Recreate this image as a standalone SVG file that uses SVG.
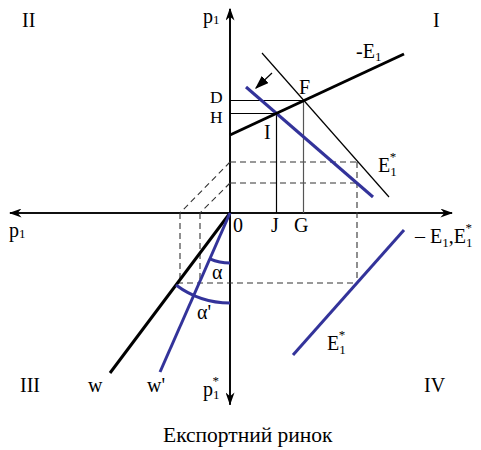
<svg xmlns="http://www.w3.org/2000/svg" width="481" height="450" viewBox="0 0 481 450">
<defs>
<marker id="ah" viewBox="0 0 20 14" refX="18" refY="7" markerWidth="13" markerHeight="9" markerUnits="userSpaceOnUse" orient="auto">
<path d="M0,0 L20,7 L0,14 L6,7 Z" fill="#000"/>
</marker>
<marker id="ah2" viewBox="0 0 20 14" refX="18" refY="7" markerWidth="14" markerHeight="10" markerUnits="userSpaceOnUse" orient="auto">
<path d="M0,0 L20,7 L0,14 Z" fill="#000"/>
</marker>
</defs>
<style>
text{font-family:"Liberation Serif","Times New Roman",serif;font-size:20px;fill:#000}
.sub{font-size:13px}
.sm{font-size:17.5px}
.cap{font-size:21.5px}
.axis{stroke:#000;stroke-width:1.6;fill:none}
.thin{stroke:#000;stroke-width:1.2;fill:none}
.gray{stroke:#555;stroke-width:1.2;fill:none}
.thick{stroke:#000;stroke-width:3;fill:none}
.blue{stroke:#33339a;stroke-width:3;fill:none}
.dash{stroke:#333;stroke-width:1.1;fill:none;stroke-dasharray:6,4}
</style>
<rect width="481" height="450" fill="#fff"/>
<g id="connectors">
<line class="axis" x1="230" y1="405" x2="230" y2="9" marker-end="url(#ah)"/>
<line class="axis" x1="230" y1="9" x2="230" y2="404" marker-end="url(#ah)"/>
<line class="axis" x1="10" y1="213" x2="452" y2="213" marker-end="url(#ah)"/>
<line class="axis" x1="452" y1="213" x2="10" y2="213" marker-end="url(#ah)"/>
<line class="dash" x1="230" y1="162" x2="357" y2="162"/>
<line class="dash" x1="230" y1="183" x2="357" y2="183"/>
<line class="dash" x1="357" y1="162" x2="357" y2="283"/>
<line class="dash" x1="177" y1="283" x2="357" y2="283"/>
<line class="dash" x1="230" y1="162" x2="180" y2="213"/>
<line class="dash" x1="230" y1="183" x2="200" y2="213"/>
<line class="dash" x1="180" y1="213" x2="180" y2="281"/>
<line class="dash" x1="200" y1="213" x2="200" y2="281"/>
<line class="thin" x1="230" y1="100.5" x2="304" y2="100.5"/>
<line class="thin" x1="230" y1="113.5" x2="277" y2="113.5"/>
<line class="thin" x1="276.5" y1="113.5" x2="276.5" y2="213"/>
<line class="gray" x1="303.5" y1="100.5" x2="303.5" y2="213"/>
<line class="thin" x1="262" y1="53" x2="389" y2="197"/>
<line class="blue" x1="246" y1="87" x2="373" y2="197"/>
<line class="thick" x1="230" y1="135" x2="404" y2="54"/>
<line class="thin" x1="272" y1="73" x2="256" y2="88" marker-end="url(#ah2)"/>
<line class="thick" x1="230" y1="213" x2="110" y2="373"/>
<line class="blue" x1="230" y1="213" x2="160" y2="372"/>
<line class="blue" x1="293" y1="355" x2="404" y2="230"/>
<path class="blue" d="M209.9,258.8 A50,50 0 0 0 230,263"/>
<path class="blue" d="M176,285 A90,90 0 0 0 230,303"/>
</g>
<g id="labels">
<text x="22" y="27">II</text>
<text x="433" y="27">I</text>
<text x="20" y="392">III</text>
<text x="424" y="392">IV</text>
<text x="203" y="23">p<tspan class="sub" dy="1">1</tspan></text>
<text x="9" y="237">p<tspan class="sub" dy="1">1</tspan></text>
<text x="203" y="396">p<tspan class="sub" dy="3">1</tspan><tspan class="sub" dx="-7" dy="-14">*</tspan></text>
<text x="356" y="58">-E<tspan class="sub" dy="3">1</tspan></text>
<text x="299" y="94">F</text>
<text class="sm" x="210" y="102.5">D</text>
<text class="sm" x="210" y="122.5">H</text>
<text x="264" y="139">I</text>
<text x="378" y="172">E<tspan class="sub" dy="4">1</tspan><tspan class="sub" dx="-7" dy="-15">*</tspan></text>
<text x="233" y="232">0</text>
<text x="271" y="232">J</text>
<text x="294" y="232">G</text>
<text x="415" y="243">– E<tspan class="sub" dy="4">1</tspan><tspan dy="-4">,E</tspan><tspan class="sub" dy="4">1</tspan><tspan class="sub" dx="-7" dy="-15">*</tspan></text>
<text x="327" y="350">E<tspan class="sub" dy="4">1</tspan><tspan class="sub" dx="-7" dy="-15">*</tspan></text>
<text x="212" y="279">α</text>
<text x="197" y="319">α'</text>
<text x="88" y="392">w</text>
<text x="147" y="392">w'</text>
<text class="cap" x="163" y="442">Експортний ринок</text>
</g>
</svg>
